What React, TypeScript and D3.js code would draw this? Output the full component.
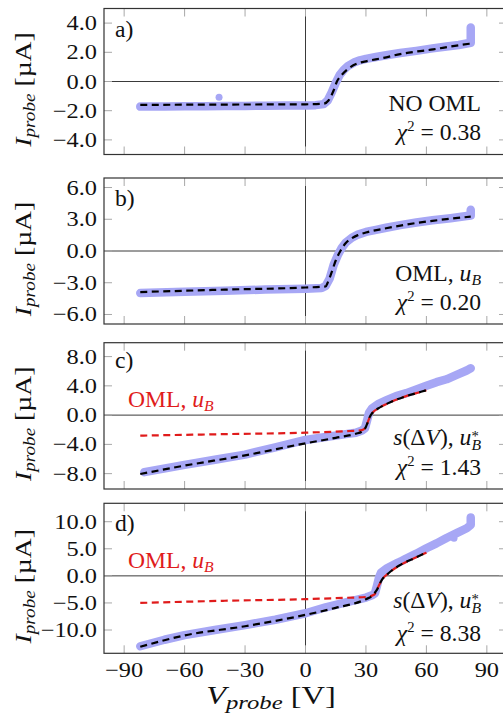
import React from "react";
import * as d3 from "d3";

const W = 503;
const H = 719;
const FONT = "'Liberation Serif', 'Times New Roman', 'DejaVu Serif', serif";

const xTickValues = [-90, -60, -30, 0, 30, 60, 90];
const xDomain = [-100, 100];

// ---- panel a) NO OML ----
const aYTicks = [-4, -2, 0, 2, 4];
const aDataV = [-82, -70, -60, -50, -40, -30, -20, -10, 0, 5, 9, 11, 13, 15, 17, 19, 21, 24, 27, 30, 35, 40, 47, 55, 63, 70, 76, 80, 82, 82];
const aDataI = [-1.72, -1.71, -1.7, -1.69, -1.68, -1.67, -1.66, -1.65, -1.64, -1.62, -1.55, -1.3, -0.75, -0.1, 0.45, 0.8, 1.05, 1.3, 1.45, 1.55, 1.68, 1.8, 1.95, 2.1, 2.27, 2.4, 2.5, 2.6, 2.65, 3.7];
const aFitV = [-82, -40, 0, 9, 11.4, 14, 15.6, 18, 22.3, 26.4, 30.5, 38.7, 47, 55, 63.4, 72, 82];
const aFitI = [-1.6, -1.58, -1.56, -1.52, -1.3, -0.6, 0, 0.45, 0.99, 1.27, 1.4, 1.62, 1.88, 2.05, 2.2, 2.4, 2.6];
const aOutV = [-42.9];
const aOutI = [-1.08];

// ---- panel b) OML, u_B ----
const bYTicks = [-6, -3, 0, 3, 6];
const bDataV = [-82, -60, -40, -20, 0, 8, 10, 12, 14, 16, 18, 20, 23, 26, 30, 35, 40, 47, 55, 63, 72, 80, 82, 82];
const bDataI = [-3.98, -3.85, -3.75, -3.65, -3.56, -3.5, -3.3, -2.6, -1.3, -0.4, 0.3, 0.8, 1.25, 1.55, 1.8, 2.0, 2.2, 2.45, 2.7, 2.9, 3.1, 3.3, 3.35, 3.9];
const bFitV = [-82, -40, 0, 10, 11, 13, 15, 17.3, 20, 23, 26, 30, 40, 50, 63, 82];
const bFitI = [-3.88, -3.65, -3.45, -3.35, -3.0, -2.0, -0.9, 0, 0.75, 1.2, 1.5, 1.75, 2.15, 2.5, 2.85, 3.25];
const bOutV: number[] = [];
const bOutI: number[] = [];

// ---- panel c) s(ΔV), u_B* ----
const cYTicks = [-8, -4, 0, 4, 8];
const cDataV = [-80, -60, -45, -30, -15, 0, 10, 20, 25, 28, 29.5, 30.5, 31.5, 33, 36, 40, 45, 50, 55, 60, 65, 70, 75, 80, 82];
const cDataI = [-7.8, -6.8, -6.1, -5.4, -4.4, -3.4, -3.0, -2.6, -2.4, -2.1, -1.8, -0.8, 0.3, 0.9, 1.5, 2.0, 2.6, 3.0, 3.5, 4.0, 4.5, 4.9, 5.5, 6.1, 6.4];
const cFitBlackV = [-82, -60, -30, 0, 15, 25, 28, 30, 31, 32, 33.5, 36, 40, 45, 50, 55, 60];
const cFitBlackI = [-8.05, -6.9, -5.5, -3.85, -3.1, -2.55, -2.25, -1.6, -0.9, -0.2, 0.4, 0.9, 1.5, 2.1, 2.6, 3.0, 3.4];
const cFitRedV = [-82, -40, 0, 20, 28, 30, 31, 32, 33.5, 36, 40, 45, 50, 55, 60];
const cFitRedI = [-2.8, -2.6, -2.4, -2.2, -2.05, -1.6, -0.9, -0.2, 0.4, 0.9, 1.5, 2.1, 2.6, 3.0, 3.4];
const cOutV: number[] = [];
const cOutI: number[] = [];

// ---- panel d) s(ΔV), u_B* ----
const dYTicks = [-10, -5, 0, 5, 10];
const dDataV = [-82, -70, -60, -45, -30, -15, 0, 10, 20, 30, 33, 34.5, 35.5, 36.5, 37.5, 40, 45, 47, 50, 55, 60, 65, 70, 75, 80, 82, 82];
const dDataI = [-13.0, -11.8, -10.95, -10.0, -9.1, -8.1, -6.9, -5.8, -4.9, -4.0, -3.6, -3.2, -1.8, -0.3, 0.6, 1.3, 2.3, 2.6, 3.2, 4.1, 5.1, 6.0, 7.0, 7.9, 8.8, 9.4, 10.8];
const dFitBlackV = [-82, -60, -30, 0, 15, 30, 33, 35.4, 37.9, 41.2, 47, 53.6, 60];
const dFitBlackI = [-13.1, -11.0, -9.3, -7.2, -5.9, -4.3, -3.7, -2.58, -0.74, 0.49, 2.0, 3.2, 4.3];
const dFitRedV = [-82, -40, 0, 20, 30, 34, 35.4, 37.9, 41.2, 47, 53.6, 60];
const dFitRedI = [-5.0, -4.6, -4.3, -4.05, -3.9, -3.5, -2.58, -0.74, 0.49, 2.0, 3.2, 4.3];
const dOutV = [73.7];
const dOutI = [6.95];

const DATA_COLOR = "#a7a7f5";
const RED = "#e01b1b";
const INK = "#111";

type Fit = { v: number[]; i: number[]; color: string };

type PanelProps = {
  top: number;
  bottom: number;
  yDomain: [number, number];
  yTicks: number[];
  dataV: number[];
  dataI: number[];
  outV: number[];
  outI: number[];
  fits: Fit[];
  showXLabels: boolean;
};

function T({
  x,
  y,
  sx = 1,
  anchor = "start",
  size = 22,
  fill = INK,
  children,
}: {
  x: number;
  y: number;
  sx?: number;
  anchor?: string;
  size?: number;
  fill?: string;
  children: React.ReactNode;
}) {
  return (
    <g transform={`translate(${x},${y}) scale(${sx},1)`}>
      <text x={0} y={0} textAnchor={anchor} fontSize={size} fontFamily={FONT} fill={fill}>
        {children}
      </text>
    </g>
  );
}

function Panel(p: PanelProps) {
  const left = 104;
  const right = 507;
  const x = d3.scaleLinear().domain(xDomain).range([left, right]);
  const y = d3.scaleLinear().domain(p.yDomain).range([p.bottom, p.top]);
  const fmt = d3.format(".1f");
  const line = d3.line<[number, number]>();
  const smooth = d3.line<[number, number]>().curve(d3.curveMonotoneX);
  const dataPath = line(p.dataV.map((v, k) => [x(v), y(p.dataI[k])] as [number, number])) || "";
  const tickLen = 8;
  return (
    <g>
      <line x1={left} x2={right} y1={y(0)} y2={y(0)} stroke="#3a3a3a" strokeWidth={1} />
      <line x1={x(0)} x2={x(0)} y1={p.top} y2={p.bottom} stroke="#3a3a3a" strokeWidth={1} />
      {xTickValues.map((t) => (
        <g key={"xt" + t}>
          <line x1={x(t)} x2={x(t)} y1={p.top} y2={p.top + tickLen} stroke="#a8a8a8" strokeWidth={1} />
          <line x1={x(t)} x2={x(t)} y1={p.bottom} y2={p.bottom - tickLen} stroke="#a8a8a8" strokeWidth={1} />
        </g>
      ))}
      {p.yTicks.map((t) => (
        <g key={"yt" + t}>
          <line x1={left} x2={left + tickLen} y1={y(t)} y2={y(t)} stroke="#a8a8a8" strokeWidth={1} />
          <line x1={right} x2={right - tickLen} y1={y(t)} y2={y(t)} stroke="#a8a8a8" strokeWidth={1} />
          <T x={97} y={y(t) + 7} anchor="end" size={21} sx={1.16}>
            {fmt(t)}
          </T>
        </g>
      ))}
      <path d={dataPath} fill="none" stroke={DATA_COLOR} strokeWidth={8.5} strokeLinejoin="round" strokeLinecap="round" />
      {p.outV.map((v, k) => (
        <circle key={"o" + k} cx={x(v)} cy={y(p.outI[k])} r={3.5} fill={DATA_COLOR} />
      ))}
      {p.fits.map((f, k) => (
        <path
          key={"f" + k}
          d={smooth(f.v.map((v, j) => [x(v), y(f.i[j])] as [number, number])) || ""}
          fill="none"
          stroke={f.color}
          strokeWidth={2.2}
          strokeDasharray="7 4.5"
        />
      ))}
      <rect x={left} y={p.top} width={right - left} height={p.bottom - p.top} fill="none" stroke="#333" strokeWidth={1.2} />
      {p.showXLabels &&
        xTickValues.map((t) => (
          <T key={"xl" + t} x={x(t)} y={677} anchor="middle" size={21} sx={1.16}>
            {d3.format("d")(t)}
          </T>
        ))}
      <YLabel cy={(p.top + p.bottom) / 2 + 8} />
    </g>
  );
}

function YLabel({ cy }: { cy: number }) {
  return (
    <g transform={`translate(31,${cy}) rotate(-90) scale(1.2,1)`}>
      <text x={0} y={0} textAnchor="middle" fontSize={23} fontFamily={FONT} fill={INK}>
        <tspan fontStyle="italic">I</tspan>
        <tspan fontStyle="italic" fontSize={16} dy={4}>probe</tspan>
        <tspan dy={-4}> [µA]</tspan>
      </text>
    </g>
  );
}

function Chi({ x, y, value }: { x: number; y: number; value: string }) {
  return (
    <T x={x} y={y} anchor="end" size={22.5} sx={1.05}>
      <tspan fontStyle="italic">χ</tspan>
      <tspan fontSize={14} dy={-9}>2</tspan>
      <tspan dy={9}> = {value}</tspan>
    </T>
  );
}

function OmlUB({ x, y, anchor, color }: { x: number; y: number; anchor: string; color: string }) {
  return (
    <T x={x} y={y} anchor={anchor} size={22.5} sx={1.05} fill={color}>
      <tspan>OML, </tspan>
      <tspan fontStyle="italic">u</tspan>
      <tspan fontStyle="italic" fontSize={15} dy={4}>B</tspan>
    </T>
  );
}

function SdV({ x, y }: { x: number; y: number }) {
  return (
    <T x={x} y={y} anchor="end" size={22.5} sx={1.05}>
      <tspan fontStyle="italic">s</tspan>
      <tspan>(Δ</tspan>
      <tspan fontStyle="italic">V</tspan>
      <tspan>), </tspan>
      <tspan fontStyle="italic">u</tspan>
      <tspan fontSize={14} dy={-4}>*</tspan>
      <tspan fontStyle="italic" fontSize={15} dx={-7} dy={9}>B</tspan>
    </T>
  );
}

export default function App() {
  return (
    <svg width={W} height={H} style={{ position: "absolute", left: 0, top: 0, background: "#fff" }}>
      <rect width={W} height={H} fill="#fff" />
      <Panel
        top={8.5}
        bottom={154.5}
        yDomain={[-5, 5]}
        yTicks={aYTicks}
        dataV={aDataV}
        dataI={aDataI}
        outV={aOutV}
        outI={aOutI}
        fits={[{ v: aFitV, i: aFitI, color: "#000" }]}
        showXLabels={false}
      />
      <T x={115} y={37} size={22.5} sx={1.05}>a)</T>
      <T x={481} y={111} anchor="end" size={22.5} sx={1.05}>NO OML</T>
      <Chi x={481} y={140} value="0.38" />

      <Panel
        top={178}
        bottom={324}
        yDomain={[-6.9, 6.9]}
        yTicks={bYTicks}
        dataV={bDataV}
        dataI={bDataI}
        outV={bOutV}
        outI={bOutI}
        fits={[{ v: bFitV, i: bFitI, color: "#000" }]}
        showXLabels={false}
      />
      <T x={115} y={206} size={22.5} sx={1.05}>b)</T>
      <OmlUB x={481} y={281} anchor="end" color={INK} />
      <Chi x={481} y={310} value="0.20" />

      <Panel
        top={342.7}
        bottom={489}
        yDomain={[-10.1, 9.9]}
        yTicks={cYTicks}
        dataV={cDataV}
        dataI={cDataI}
        outV={cOutV}
        outI={cOutI}
        fits={[
          { v: cFitRedV, i: cFitRedI, color: RED },
          { v: cFitBlackV, i: cFitBlackI, color: "#000" },
        ]}
        showXLabels={false}
      />
      <T x={115} y={368} size={22.5} sx={1.05}>c)</T>
      <OmlUB x={128} y={407} anchor="start" color={RED} />
      <SdV x={481} y={445} />
      <Chi x={481} y={475} value="1.43" />

      <Panel
        top={503.3}
        bottom={653.3}
        yDomain={[-14.3, 13.4]}
        yTicks={dYTicks}
        dataV={dDataV}
        dataI={dDataI}
        outV={dOutV}
        outI={dOutI}
        fits={[
          { v: dFitRedV, i: dFitRedI, color: RED },
          { v: dFitBlackV, i: dFitBlackI, color: "#000" },
        ]}
        showXLabels={true}
      />
      <T x={115} y={531} size={22.5} sx={1.05}>d)</T>
      <OmlUB x={128} y={568} anchor="start" color={RED} />
      <SdV x={481} y={608} />
      <Chi x={481} y={641} value="8.38" />

      <T x={271} y={704} anchor="middle" size={25} sx={1.3}>
        <tspan fontStyle="italic">V</tspan>
        <tspan fontStyle="italic" fontSize={19} dy={5}>probe</tspan>
        <tspan dy={-5}> [V]</tspan>
      </T>
    </svg>
  );
}
